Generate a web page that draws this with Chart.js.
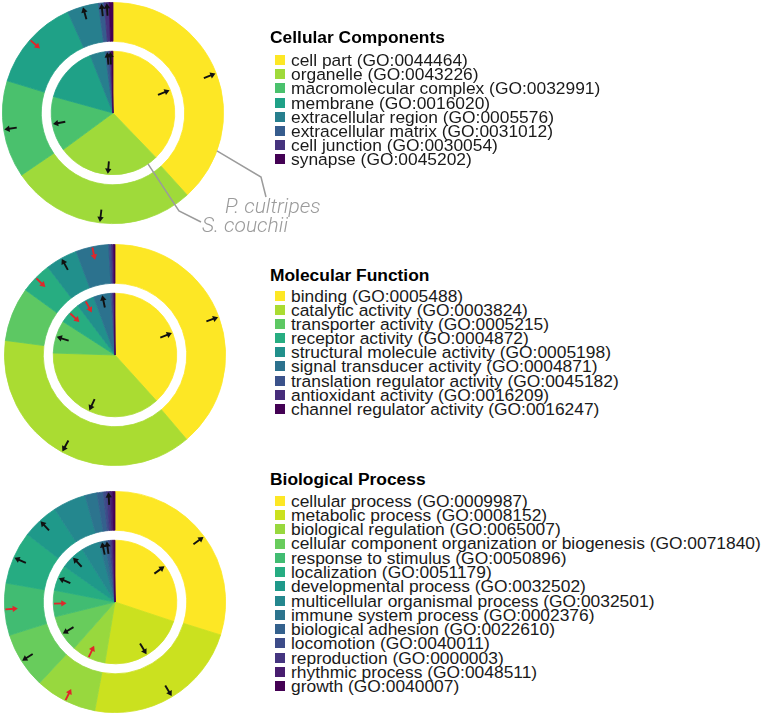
<!DOCTYPE html>
<html>
<head>
<meta charset="utf-8">
<script src="https://cdn.jsdelivr.net/npm/chart.js@4.4.1/dist/chart.umd.min.js"></script>
<style>
  body { margin: 0; background: #fff; }
  #page { position: relative; width: 771px; height: 716px; overflow: hidden; font-family: "Liberation Sans", Arial, Helvetica, sans-serif; color: #1a1a1a; }
  canvas { position: absolute; }
  .ttl { position: absolute; left: 270px; height: 20px; line-height: 20px; font-weight: bold; font-size: 17.4px; color: #000; white-space: nowrap; }
  .row { position: absolute; left: 275px; display: flex; align-items: center; white-space: nowrap; font-size: 17.4px; }
  .box { width: 10px; height: 10px; margin-right: 6px; flex: none; }
</style>
</head>
<body>
<div id="page">
  <canvas id="cc"></canvas>
  <canvas id="mf"></canvas>
  <canvas id="bp"></canvas>
</div>
<script>
// ---- data (percent of annotated genes), outer ring = P. cultripes, inner pie = S. couchii
// arrows: 1 = up (black, pointing out), -1 = down (red, pointing in), 0 = none

const ccLabels = ["cell part (GO:0044464)", "organelle (GO:0043226)", "macromolecular complex (GO:0032991)",
  "membrane (GO:0016020)", "extracellular region (GO:0005576)", "extracellular matrix (GO:0031012)",
  "cell junction (GO:0030054)", "synapse (GO:0045202)"];
const ccCultripes = [38.3, 27.2, 14.2, 13.6, 4.6, 0.85, 0.7, 0.55];
const ccCouchii = [37.8, 27.1, 14.4, 14.7, 4.0, 1.0, 0.6, 0.4];
const ccArrowsCultripes = [1, 1, 1, -1, 1, 1, 1, 0];
const ccArrowsCouchii = [1, 1, 1, 0, 0, 1, 1, 0];

const mfLabels = ["binding (GO:0005488)", "catalytic activity (GO:0003824)", "transporter activity (GO:0005215)",
  "receptor activity (GO:0004872)", "structural molecule activity (GO:0005198)", "signal transducer activity (GO:0004871)",
  "translation regulator activity (GO:0045182)", "antioxidant activity (GO:0016209)", "channel regulator activity (GO:0016247)"];
const mfCultripes = [38.8, 38.3, 7.9, 4.6, 4.7, 4.8, 0.4, 0.3, 0.2];
const mfCouchii = [38.3, 37.2, 8.6, 5.6, 4.7, 4.5, 0.5, 0.4, 0.2];
const mfArrowsCultripes = [1, 1, 0, -1, 1, -1, 0, 0, 0];
const mfArrowsCouchii = [1, 1, 1, -1, -1, 1, 0, 0, 0];

const bpLabels = ["cellular process (GO:0009987)", "metabolic process (GO:0008152)", "biological regulation (GO:0065007)",
  "cellular component organization or biogenesis (GO:0071840)", "response to stimulus (GO:0050896)",
  "localization (GO:0051179)", "developmental process (GO:0032502)", "multicellular organismal process (GO:0032501)",
  "immune system process (GO:0002376)", "biological adhesion (GO:0022610)", "locomotion (GO:0040011)",
  "reproduction (GO:0000003)", "rhythmic process (GO:0048511)", "growth (GO:0040007)"];
const bpCultripes = [29.8, 23.1, 9.0, 8.2, 7.6, 7.7, 5.4, 4.8, 1.75, 0.9, 0.5, 0.5, 0.4, 0.3];
const bpCouchii = [30.1, 22.5, 8.9, 9.6, 6.9, 6.7, 6.4, 4.7, 1.5, 1.0, 0.55, 0.45, 0.35, 0.3];
const bpArrowsCultripes = [1, 1, -1, 1, -1, 1, 1, 0, 0, 0, 0, 1, 0, 0];
const bpArrowsCouchii = [1, 1, -1, 1, -1, 1, 1, 0, 1, 1, 0, 0, 0, 0];

// viridis palettes (reversed, yellow first)
const ccColors = ["#FDE725", "#9FDA3A", "#4AC16D", "#1FA187", "#277F8E", "#365C8D", "#46337E", "#440154"];
const mfColors = ["#FDE725", "#AADC32", "#5DC863", "#27AD81", "#21908C", "#2C728E", "#3B528B", "#472D7B", "#440154"];
const bpColors = ["#FDE725", "#CBE11F", "#98D83E", "#68CC5C", "#41BC72", "#26AC82", "#1F998A",
  "#24878E", "#2C748E", "#34618D", "#3D4C89", "#453580", "#481D6F", "#440154"];

// arrows on each slice
const arrowPlugin = {
  id: "arrows",
  afterDatasetsDraw(chart) {
    const ctx = chart.ctx;
    chart.data.datasets.forEach((ds, di) => {
      if (!ds.arrows) return;
      const meta = chart.getDatasetMeta(di);
      meta.data.forEach((arc, i) => {
        const dir = ds.arrows[i];
        if (!dir) return;
        const p = arc.getProps(["x", "y", "startAngle", "endAngle", "outerRadius"], true);
        const a = (p.startAngle + p.endAngle) / 2;
        const r = p.outerRadius - 7;
        const cx = p.x + Math.cos(a) * r;
        const cy = p.y + Math.sin(a) * r;
        const ang = dir > 0 ? a : a + Math.PI;
        const color = dir > 0 ? "#111" : "#e0262b";
        const len = 12.5, head = 5.2, hw = 3.2;
        const ux = Math.cos(ang), uy = Math.sin(ang);
        const tx = cx - ux * len / 2, ty = cy - uy * len / 2;
        const hx = cx + ux * len / 2, hy = cy + uy * len / 2;
        ctx.save();
        ctx.strokeStyle = color;
        ctx.fillStyle = color;
        ctx.lineWidth = 1.9;
        ctx.beginPath();
        ctx.moveTo(tx, ty);
        ctx.lineTo(hx - ux * head * 0.6, hy - uy * head * 0.6);
        ctx.stroke();
        ctx.beginPath();
        ctx.moveTo(hx, hy);
        ctx.lineTo(hx - ux * head - uy * hw, hy - uy * head + ux * hw);
        ctx.lineTo(hx - ux * head + uy * hw, hy - uy * head - ux * hw);
        ctx.closePath();
        ctx.fill();
        ctx.restore();
      });
    });
  }
};

// species labels with leader lines (first chart only)
const speciesPlugin = {
  id: "species",
  afterDraw(chart) {
    const ctx = chart.ctx;
    const outer = chart.getDatasetMeta(0).data[0].getProps(["x", "y", "outerRadius"], true);
    const inner = chart.getDatasetMeta(2).data[0].getProps(["outerRadius"], true);
    const cx = outer.x, cy = outer.y;
    const a1 = 20 * Math.PI / 180, a2 = 55.5 * Math.PI / 180;
    ctx.save();
    ctx.strokeStyle = "#9b9b9b";
    ctx.lineWidth = 1.5;
    ctx.beginPath();
    ctx.moveTo(cx + Math.cos(a1) * outer.outerRadius, cy + Math.sin(a1) * outer.outerRadius);
    ctx.lineTo(cx + 148, cy + 64);
    ctx.lineTo(cx + 153, cy + 84);
    ctx.stroke();
    ctx.beginPath();
    ctx.moveTo(cx + Math.cos(a2) * inner.outerRadius, cy + Math.sin(a2) * inner.outerRadius);
    ctx.lineTo(cx + 66, cy + 98);
    ctx.lineTo(cx + 88, cy + 109);
    ctx.stroke();
    ctx.fillStyle = "#9b9b9b";
    ctx.font = "italic 300 21px Roboto, 'Liberation Sans', sans-serif";
    ctx.textBaseline = "alphabetic";
    ctx.fillText("P. cultripes", cx + 112, cy + 100);
    ctx.fillText("S. couchii", cx + 89, cy + 119);
    ctx.restore();
  }
};

function makeChart(id, left, top, w, h, pad, labels, colors, outerVals, innerVals, outerArrows, innerArrows, extra) {
  const cv = document.getElementById(id);
  cv.width = w; cv.height = h;
  cv.style.left = left + "px"; cv.style.top = top + "px";
  cv.style.width = w + "px"; cv.style.height = h + "px";
  return new Chart(cv, {
    type: "doughnut",
    data: {
      labels: labels,
      datasets: [
        { label: "P. cultripes", data: outerVals, backgroundColor: colors, borderColor: colors, borderWidth: 0.8, weight: 39, arrows: outerArrows },
        { label: "gap", data: [1], backgroundColor: "rgba(0,0,0,0)", borderWidth: 0, weight: 10 },
        { label: "S. couchii", data: innerVals, backgroundColor: colors, borderColor: colors, borderWidth: 0.8, weight: 62, arrows: innerArrows }
      ]
    },
    options: {
      responsive: false,
      animation: false,
      events: [],
      cutout: 0,
      devicePixelRatio: 1,
      layout: { padding: pad },
      elements: { arc: { hoverOffset: 0, offset: 0, hoverBorderWidth: 0 } },
      plugins: { legend: { display: false }, tooltip: { enabled: false } }
    },
    plugins: [arrowPlugin].concat(extra || [])
  });
}

makeChart("cc", 2, 2, 340, 240, { left: 0, top: 0, right: 118, bottom: 18 }, ccLabels, ccColors,
  ccCultripes, ccCouchii, ccArrowsCultripes, ccArrowsCouchii, [speciesPlugin]);
makeChart("mf", 4, 244, 222, 222, 0, mfLabels, mfColors, mfCultripes, mfCouchii, mfArrowsCultripes, mfArrowsCouchii);
makeChart("bp", 4, 491, 222, 222, 0, bpLabels, bpColors, bpCultripes, bpCouchii, bpArrowsCultripes, bpArrowsCouchii);

// legends
function buildLegend(title, labels, colors, titleY, firstY, step) {
  const page = document.getElementById("page");
  const t = document.createElement("div");
  t.className = "ttl";
  t.style.top = (titleY - 10) + "px";
  t.textContent = title;
  page.appendChild(t);
  labels.forEach((lab, i) => {
    const row = document.createElement("div");
    row.className = "row";
    row.style.top = (firstY + i * step - step / 2) + "px";
    row.style.height = step + "px";
    row.style.lineHeight = step + "px";
    const b = document.createElement("span");
    b.className = "box";
    b.style.background = colors[i];
    const s = document.createElement("span");
    s.textContent = lab;
    row.appendChild(b);
    row.appendChild(s);
    page.appendChild(row);
  });
}
buildLegend("Cellular Components", ccLabels, ccColors, 36.7, 60.4, 14.04);
buildLegend("Molecular Function", mfLabels, mfColors, 275.2, 296, 14.1);
buildLegend("Biological Process", bpLabels, bpColors, 479.2, 500.8, 14.27);
</script>
</body>
</html>
